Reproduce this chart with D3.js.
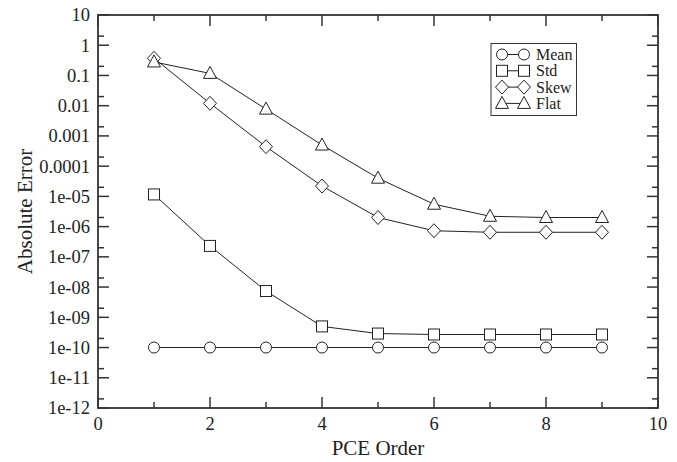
<!DOCTYPE html>
<html><head><meta charset="utf-8">
<script src="https://cdn.jsdelivr.net/npm/d3@7"></script>
<style>body{margin:0;background:#fff}svg{display:block}</style>
</head><body>
<svg id="c" width="677" height="462"></svg>
<script>
const orders = [1,2,3,4,5,6,7,8,9];
const meanErr = [1e-10,1e-10,1e-10,1e-10,1e-10,1e-10,1e-10,1e-10,1e-10];
const stdErr  = [1.16e-5,2.3e-7,7.4e-9,5.0e-10,2.9e-10,2.7e-10,2.7e-10,2.7e-10,2.7e-10];
const skewErr = [0.37,0.012,4.4e-4,2.2e-5,2.0e-6,7.3e-7,6.5e-7,6.5e-7,6.5e-7];
const flatErr = [0.28,0.117,0.0077,5.0e-4,4.0e-5,5.5e-6,2.2e-6,2.0e-6,2.0e-6];
const seriesNames = ["Mean","Std","Skew","Flat"];
const yTickLabels = ["10","1","0.1","0.01","0.001","0.0001","1e-05","1e-06","1e-07","1e-08","1e-09","1e-10","1e-11","1e-12"];
const xTickValues = [0,2,4,6,8,10];

const svg = d3.select("#c");
const L=98,R=658,T=15,B=408;
const x = d3.scaleLinear().domain([0,10]).range([L,R]);
const y = d3.scaleLog().domain([1e-12,10]).range([B,T]);
const font = "'Liberation Serif','Times New Roman',serif";
const axisCol = "#333";

const yMajor = d3.range(-12,2).map(e=>Math.pow(10,e));
const yMinor = d3.range(-12,1).map(e=>2*Math.pow(10,e));
const xMinor = [1,3,5,7,9];

const g = svg.append("g");
function tick(x1,y1,x2,y2){g.append("line").attr("x1",x1).attr("y1",y1).attr("x2",x2).attr("y2",y2).attr("stroke",axisCol).attr("stroke-width",1.5);}
yMajor.forEach(v=>{const yy=y(v); tick(L,yy,L+11,yy); tick(R,yy,R-11,yy);});
yMinor.forEach(v=>{const yy=y(v); tick(L,yy,L+6,yy); tick(R,yy,R-6,yy);});
xTickValues.forEach(v=>{const xx=x(v); tick(xx,B,xx,B-11); tick(xx,T,xx,T+11);});
xMinor.forEach(v=>{const xx=x(v); tick(xx,B,xx,B-6); tick(xx,T,xx,T+6);});
g.append("rect").attr("x",L).attr("y",T).attr("width",R-L).attr("height",B-T)
  .attr("fill","none").attr("stroke",axisCol).attr("stroke-width",1.8);

yMajor.forEach((v,i)=>{
  svg.append("text").attr("x",L-8).attr("y",y(v)).attr("dy","0.35em")
    .attr("text-anchor","end").attr("font-family",font).attr("font-size",18.5).attr("fill","#222")
    .text(yTickLabels[yMajor.length-1-i]);
});
xTickValues.forEach(v=>{
  svg.append("text").attr("x",x(v)).attr("y",429.5).attr("text-anchor","middle")
    .attr("font-family",font).attr("font-size",18.5).attr("fill","#222").text(v);
});
svg.append("text").attr("x",(L+R)/2).attr("y",455).attr("text-anchor","middle")
  .attr("font-family",font).attr("font-size",21).attr("fill","#222").text("PCE Order");
svg.append("text").attr("transform",`translate(32,${(T+B)/2}) rotate(-90)`).attr("text-anchor","middle")
  .attr("font-family",font).attr("font-size",21).attr("fill","#222").text("Absolute Error");

function marker(sel,type){
  if(type==="Mean") sel.append("circle").attr("r",5.5);
  else if(type==="Std") sel.append("rect").attr("x",-5.5).attr("y",-5.5).attr("width",11).attr("height",11);
  else if(type==="Skew") sel.append("path").attr("d","M0,-7L6.5,0L0,7L-6.5,0Z");
  else sel.append("path").attr("d","M0,-7L6.5,5L-6.5,5Z");
  sel.selectAll("*").attr("fill","#fff").attr("stroke","#222").attr("stroke-width",1);
}
const allSeries = [meanErr,stdErr,skewErr,flatErr];
const line = d3.line().x((d,i)=>x(orders[i])).y(d=>y(d));
allSeries.forEach(s=>{
  svg.append("path").attr("d",line(s)).attr("fill","none").attr("stroke","#222").attr("stroke-width",1);
});
allSeries.forEach((s,k)=>{
  s.forEach((v,i)=>{
    const m = svg.append("g").attr("transform",`translate(${x(orders[i])},${y(v)})`);
    marker(m,seriesNames[k]);
  });
});

const lg = svg.append("g");
lg.append("rect").attr("x",491).attr("y",43.5).attr("width",85.5).attr("height",72)
  .attr("fill","#fff").attr("stroke","#333").attr("stroke-width",1);
seriesNames.forEach((n,i)=>{
  const yy = 54.5 + i*16.3;
  lg.append("line").attr("x1",502).attr("x2",524).attr("y1",yy).attr("y2",yy).attr("stroke","#222");
  [502,524].forEach(xx=>{const m=lg.append("g").attr("transform",`translate(${xx},${yy})`); marker(m,n);});
  lg.append("text").attr("x",536).attr("y",yy).attr("dy","0.35em").attr("font-family",font)
    .attr("font-size",16).attr("fill","#222").text(n);
});
</script>
</body></html>
